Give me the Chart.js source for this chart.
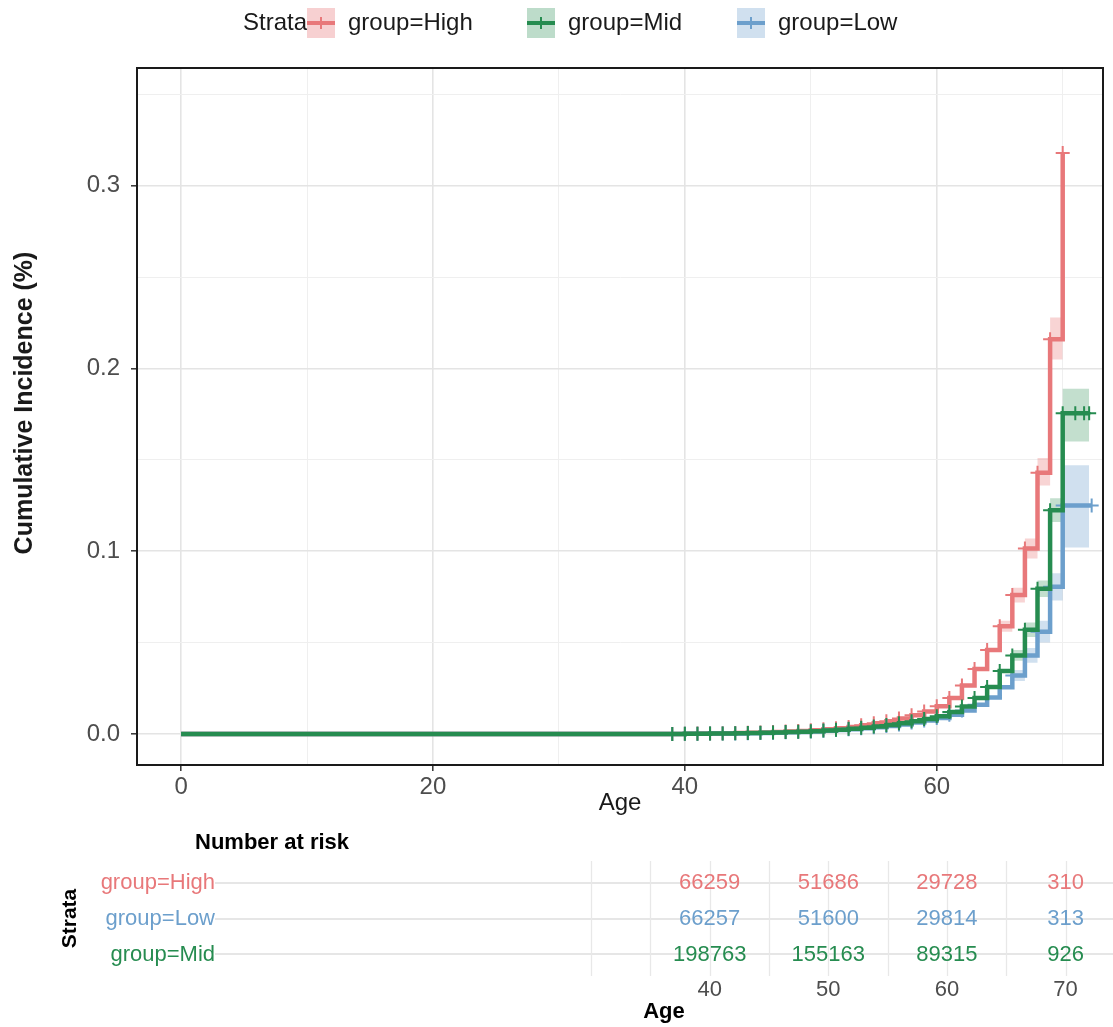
<!DOCTYPE html>
<html><head><meta charset="utf-8">
<script src="https://cdn.jsdelivr.net/npm/chart.js@4.4.1/dist/chart.umd.min.js"></script>
<style>
html,body{margin:0;padding:0;background:#fff;}
#main{position:absolute;left:0;top:0;width:1113px;height:830px;}
#risk{position:absolute;left:0;top:830px;width:1113px;height:197px;}
</style></head><body>
<div id="main"><canvas id="c1" width="1113" height="830"></canvas></div>
<div id="risk"><canvas id="c2" width="1113" height="197"></canvas></div>
<script>
// ---------- data ----------
const strataNames = ['group=High', 'group=Mid', 'group=Low'];
const highAges = [0,39,40,41,42,43,44,45,46,47,48,49,50,51,52,53,54,55,56,57,58,59,60,61,62,63,64,65,66,67,68,69,70];
const highInc  = [0,0,0.0001,0.0002,0.0003,0.0004,0.0005,0.0006,0.0008,0.0010,0.0013,0.0016,0.0020,0.0025,0.0031,0.0038,0.0047,0.0058,0.0070,0.0085,0.0102,0.0123,0.0152,0.0197,0.0265,0.0355,0.0460,0.0590,0.0760,0.1015,0.1430,0.2160,0.3180];
const midAges  = [0,39,40,41,42,43,44,45,46,47,48,49,50,51,52,53,54,55,56,57,58,59,60,61,62,63,64,65,66,67,68,69,70,71,71.7,72.1];
const midInc   = [0,0,0.0001,0.0001,0.0002,0.0003,0.0004,0.0005,0.0006,0.0008,0.0010,0.0012,0.0015,0.0019,0.0023,0.0028,0.0034,0.0041,0.0049,0.0058,0.0069,0.0082,0.0097,0.0120,0.0150,0.0197,0.0257,0.0345,0.0430,0.0570,0.0795,0.1225,0.1755,0.1755,0.1755,0.1755];
const lowAges  = [0,39,40,41,42,43,44,45,46,47,48,49,50,51,52,53,54,55,56,57,58,59,60,61,62,63,64,65,66,67,68,69,70,72.3];
const lowInc   = [0,0,0.0001,0.0001,0.0002,0.0002,0.0003,0.0004,0.0005,0.0007,0.0009,0.0011,0.0014,0.0017,0.0021,0.0026,0.0031,0.0037,0.0044,0.0052,0.0062,0.0073,0.0087,0.0105,0.0128,0.0160,0.0200,0.0255,0.0320,0.0430,0.0560,0.0805,0.1250,0.1250];

// confidence bands (late ages only; earlier bands are hidden beneath the lines)
const highCIAges = [65,66,67,68,69,70];
const highLower  = [0.056,0.072,0.096,0.136,0.205,0.205];
const highUpper  = [0.062,0.080,0.107,0.151,0.228,0.228];
const midCIAges  = [66,67,68,69,70,72.1];
const midLower   = [0.040,0.053,0.075,0.116,0.160,0.160];
const midUpper   = [0.046,0.061,0.084,0.129,0.189,0.189];
const lowCIAges  = [66,67,68,69,70,72.1];
const lowLower   = [0.029,0.039,0.050,0.073,0.102,0.102];
const lowUpper   = [0.035,0.047,0.062,0.088,0.147,0.147];

const xTicks = [0,10,20,30,40,50,60,70];
const xLabelTicks = [0,20,40,60];
const yTicks = [0,0.05,0.1,0.15,0.2,0.25,0.3,0.35];
const yLabelTicks = [0,0.1,0.2,0.3];
const yTitle = 'Cumulative Incidence (%)';

// number-at-risk table
const riskRows  = ['group=High', 'group=Low', 'group=Mid'];
const riskTimes = [40, 50, 60, 70];
const riskHigh  = [66259, 51686, 29728, 310];
const riskLow   = [66257, 51600, 29814, 313];
const riskMid   = [198763, 155163, 89315, 926];
const riskGridTicks = [30,35,40,45,50,55,60,65,70];

// ---------- styles ----------
const FONT = "'Liberation Sans', Arial, Helvetica, sans-serif";
const COL = {High: '#E8787A', Mid: '#268C50', Low: '#6C9FCC'};
const BAND = {High: 'rgba(232,120,122,0.32)', Mid: 'rgba(38,140,80,0.28)', Low: 'rgba(108,159,204,0.32)'};
const KEYFILL = {High: 'rgba(232,120,122,0.35)', Mid: 'rgba(38,140,80,0.30)', Low: 'rgba(108,159,204,0.32)'};
const rowColors = [COL.High, COL.Low, COL.Mid];

Chart.defaults.font.family = FONT;

const pts = (xs, ys) => xs.map((x, i) => ({x: x, y: ys[i]}));
const near = (v, arr) => arr.some(a => Math.abs(a - v) < 1e-9);

function curve(label, xs, ys, color, order) {
  return {
    label: label, data: pts(xs, ys), stepped: 'before',
    borderColor: color, backgroundColor: color, borderWidth: 4.5,
    pointStyle: 'cross', pointBorderColor: color, pointBorderWidth: 2,
    pointRadius: ctx => (ctx.raw && ctx.raw.x >= 39 ? 7 : 0),
    fill: false, order: order
  };
}
function band(xs, ys, color, fillTarget) {
  return {
    label: '', data: pts(xs, ys), stepped: 'before', borderWidth: 0,
    borderColor: 'rgba(0,0,0,0)', backgroundColor: color, pointRadius: 0,
    fill: fillTarget, order: 10
  };
}

const frameAndLegend = {
  id: 'frameAndLegend',
  afterDraw(chart) {
    const {ctx, chartArea: a} = chart;
    ctx.save();
    ctx.strokeStyle = '#1a1a1a';
    ctx.lineWidth = 2;
    ctx.strokeRect(a.left, a.top, a.right - a.left, a.bottom - a.top);
    // y-axis title
    ctx.save();
    ctx.translate(25, 403);
    ctx.rotate(-Math.PI / 2);
    ctx.font = 'bold 25px ' + FONT;
    ctx.fillStyle = '#1a1a1a';
    ctx.textAlign = 'center';
    ctx.textBaseline = 'middle';
    ctx.fillText(yTitle, 0, 0);
    ctx.restore();
    // legend
    const y = 23;
    ctx.font = '24px ' + FONT;
    ctx.textBaseline = 'middle';
    ctx.fillStyle = '#1a1a1a';
    ctx.textAlign = 'left';
    ctx.fillText('Strata', 243, y);
    const items = [
      {name: strataNames[0], key: 'High', kx: 307, tx: 348},
      {name: strataNames[1], key: 'Mid', kx: 527, tx: 568},
      {name: strataNames[2], key: 'Low', kx: 737, tx: 778}
    ];
    items.forEach(it => {
      ctx.fillStyle = KEYFILL[it.key];
      ctx.fillRect(it.kx, y - 15, 28, 30);
      ctx.strokeStyle = COL[it.key];
      ctx.lineWidth = 4;
      ctx.beginPath(); ctx.moveTo(it.kx, y); ctx.lineTo(it.kx + 28, y); ctx.stroke();
      ctx.lineWidth = 2;
      ctx.beginPath(); ctx.moveTo(it.kx + 14, y - 6); ctx.lineTo(it.kx + 14, y + 6); ctx.stroke();
      ctx.fillStyle = '#1a1a1a';
      ctx.fillText(it.name, it.tx, y);
    });
    ctx.restore();
  }
};

new Chart(document.getElementById('c1'), {
  type: 'line',
  data: {
    datasets: [
      curve(strataNames[0], highAges, highInc, COL.High, 3),
      curve(strataNames[1], midAges, midInc, COL.Mid, 1),
      curve(strataNames[2], lowAges, lowInc, COL.Low, 2),
      band(highCIAges, highUpper, BAND.High, '+1'),
      band(highCIAges, highLower, BAND.High, false),
      band(midCIAges, midUpper, BAND.Mid, '+1'),
      band(midCIAges, midLower, BAND.Mid, false),
      band(lowCIAges, lowUpper, BAND.Low, '+1'),
      band(lowCIAges, lowLower, BAND.Low, false)
    ]
  },
  options: {
    responsive: false, animation: false, devicePixelRatio: 1,
    layout: {padding: {left: 0, top: 68, right: 10, bottom: 0}},
    plugins: {legend: {display: false}, tooltip: {enabled: false}},
    scales: {
      x: {
        type: 'linear', min: -3.5, max: 73.2,
        afterBuildTicks: s => { s.ticks = xTicks.map(v => ({value: v})); },
        afterFit: s => { s.height = 65; },
        ticks: {
          autoSkip: false, maxRotation: 0, padding: 2, color: '#4d4d4d',
          font: {size: 24},
          callback: v => (near(v, xLabelTicks) ? String(v) : '')
        },
        grid: {
          color: c => (c.tick && near(c.tick.value, xLabelTicks) ? '#e4e4e4' : '#efefef'),
          lineWidth: c => (c.tick && near(c.tick.value, xLabelTicks) ? 1.6 : 1),
          tickLength: 6,
          tickColor: c => (c.tick && near(c.tick.value, xLabelTicks) ? '#333' : 'rgba(0,0,0,0)'),
          tickWidth: 1.5
        },
        border: {display: true, color: '#1a1a1a', width: 2},
        title: {display: true, text: 'Age', color: '#1a1a1a', font: {size: 24}, padding: {top: 0, bottom: 12}}
      },
      y: {
        type: 'linear', min: -0.017, max: 0.3645,
        afterBuildTicks: s => { s.ticks = yTicks.map(v => ({value: v})); },
        afterFit: s => { s.width = 137; },
        ticks: {
          autoSkip: false, padding: 11, color: '#4d4d4d', font: {size: 24},
          callback: v => (near(v, yLabelTicks) ? v.toFixed(1) : '')
        },
        grid: {
          color: c => (c.tick && near(c.tick.value, yLabelTicks) ? '#e4e4e4' : '#efefef'),
          lineWidth: c => (c.tick && near(c.tick.value, yLabelTicks) ? 1.6 : 1),
          tickLength: 6,
          tickColor: c => (c.tick && near(c.tick.value, yLabelTicks) ? '#333' : 'rgba(0,0,0,0)'),
          tickWidth: 1.5
        },
        border: {display: true, color: '#1a1a1a', width: 2},
        title: {display: false}
      }
    }
  },
  plugins: [frameAndLegend]
});

// ---------- risk table ----------
const riskValues = [riskHigh, riskLow, riskMid];
const riskText = {
  id: 'riskText',
  beforeDatasetsDraw(chart) {
    const {ctx, chartArea: a} = chart;
    const xs = chart.scales.x;
    ctx.save();
    ctx.strokeStyle = '#e8e8e8';
    ctx.lineWidth = 1.3;
    riskGridTicks.forEach(t => {
      const px = Math.round(xs.getPixelForValue(t)) + 0.5;
      ctx.beginPath(); ctx.moveTo(px, a.top); ctx.lineTo(px, a.bottom); ctx.stroke();
    });
    ctx.restore();
  },
  afterDraw(chart) {
    const {ctx} = chart;
    const xs = chart.scales.x, ys = chart.scales.y;
    ctx.save();
    ctx.font = '22px ' + FONT;
    ctx.textAlign = 'center';
    ctx.textBaseline = 'middle';
    riskValues.forEach((row, r) => {
      ctx.fillStyle = rowColors[r];
      row.forEach((n, i) => {
        ctx.fillText(String(n), xs.getPixelForValue(riskTimes[i]), ys.getPixelForValue(r + 1));
      });
    });
    ctx.fillStyle = '#000';
    ctx.font = 'bold 22px ' + FONT;
    ctx.textAlign = 'left';
    ctx.fillText('Number at risk', 195, 13);
    ctx.restore();
  }
};

new Chart(document.getElementById('c2'), {
  type: 'scatter',
  data: {datasets: []},
  options: {
    responsive: false, animation: false, devicePixelRatio: 1,
    layout: {padding: {left: 0, top: 31, right: 0, bottom: 0}},
    plugins: {legend: {display: false}, tooltip: {enabled: false}},
    scales: {
      x: {
        type: 'linear', min: -1.7, max: 74.0,
        afterBuildTicks: s => { s.ticks = riskGridTicks.map(v => ({value: v})); },
        afterFit: s => { s.height = 51; },
        ticks: {
          autoSkip: false, maxRotation: 0, padding: 1, color: '#4d4d4d', font: {size: 22},
          callback: v => (near(v, riskTimes) ? String(v) : '')
        },
        grid: {display: false, drawTicks: false},
        border: {display: false},
        title: {display: true, text: 'Age', color: '#000', font: {size: 22, weight: 'bold'}, padding: {top: 0, bottom: 2}}
      },
      y: {
        type: 'linear', min: 0.4, max: 3.6, reverse: true,
        afterBuildTicks: s => { s.ticks = [1, 2, 3].map(v => ({value: v})); },
        afterFit: s => { s.width = 215; },
        ticks: {
          autoSkip: false, padding: 0, font: {size: 22},
          color: c => rowColors[c.index] || '#000',
          callback: (v, i) => riskRows[i]
        },
        grid: {color: '#e6e6e6', lineWidth: 2, drawTicks: false},
        border: {display: false},
        title: {display: true, text: 'Strata', color: '#000', font: {size: 21, weight: 'bold'}, padding: {top: 58, bottom: 0}}
      }
    }
  },
  plugins: [riskText]
});
</script>
</body></html>
